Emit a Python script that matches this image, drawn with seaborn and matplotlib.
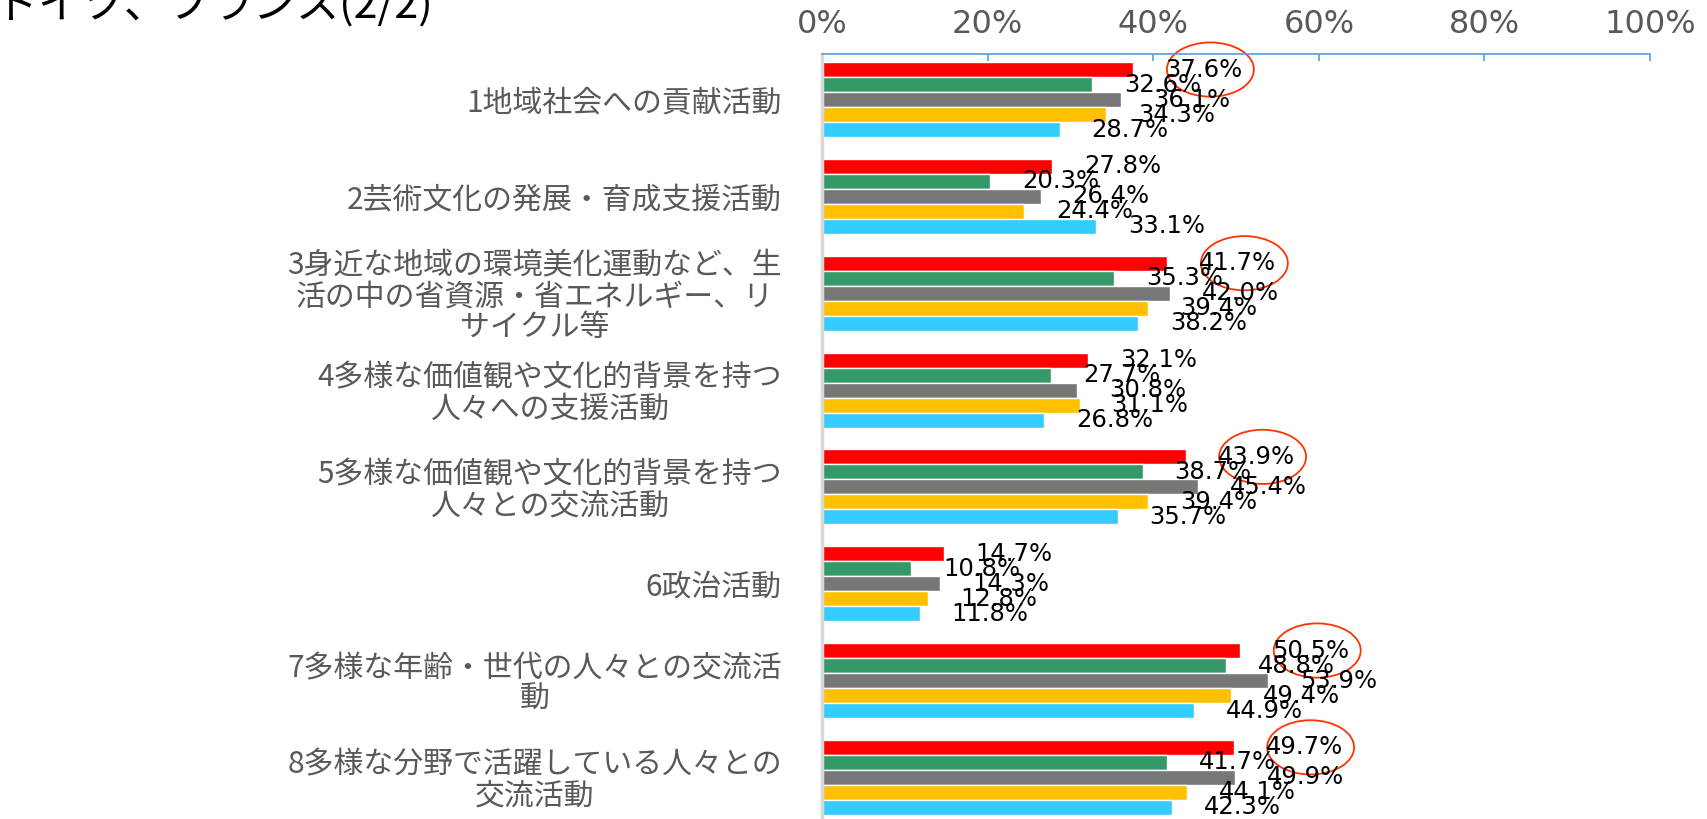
import pandas as pd
import seaborn as sns
import matplotlib.pyplot as plt
from matplotlib.patches import Ellipse

# categories and values (%)
categories = [
    "1地域社会への貢献活動",
    "2芸術文化の発展・育成支援活動",
    "3身近な地域の環境美化運動など、生\n活の中の省資源・省エネルギー、リ\nサイクル等",
    "4多様な価値観や文化的背景を持つ\n人々への支援活動",
    "5多様な価値観や文化的背景を持つ\n人々との交流活動",
    "6政治活動",
    "7多様な年齢・世代の人々との交流活\n動",
    "8多様な分野で活躍している人々との\n交流活動",
]
series = ["s1", "s2", "s3", "s4", "s5"]
red = [37.6, 27.8, 41.7, 32.1, 43.9, 14.7, 50.5, 49.7]
green = [32.6, 20.3, 35.3, 27.7, 38.7, 10.8, 48.8, 41.7]
gray = [36.1, 26.4, 42.0, 30.8, 45.4, 14.3, 53.9, 49.9]
yellow = [34.3, 24.4, 39.4, 31.1, 39.4, 12.8, 49.4, 44.1]
cyan = [28.7, 33.1, 38.2, 26.8, 35.7, 11.8, 44.9, 42.3]
circled = [0, 2, 4, 6, 7]  # red labels circled in the original
xticks = [0, 20, 40, 60, 80, 100]

colors = ["#FF0000", "#339966", "#777777", "#FFC000", "#33CCFF"]

rows = []
for name, vals in zip(series, [red, green, gray, yellow, cyan]):
    for cat, v in zip(categories, vals):
        rows.append({"cat": cat, "series": name, "value": v})
df = pd.DataFrame(rows)

sns.set_style("white")
plt.rcParams["font.family"] = ["Noto Sans CJK JP", "DejaVu Sans"]

fig = plt.figure(figsize=(17.08, 8.19), dpi=100)
ax = fig.add_axes([0.4813, 0.0, 0.4848, 0.934])

sns.barplot(data=df, y="cat", x="value", hue="series", order=categories,
            hue_order=series, palette=colors, orient="h", width=0.775,
            saturation=1, legend=False, ax=ax, errorbar=None)

for c in ax.containers:
    ax.bar_label(c, fmt="%.1f%%", padding=23, fontsize=17.5, color="black",
                 family="DejaVu Sans")

# red ellipses around the highlighted labels
red_bars = ax.containers[0]
for i in circled:
    b = red_bars[i]
    cy = b.get_y() + b.get_height() / 2
    ax.add_patch(Ellipse((b.get_width() + 9.3, cy), 10.5, 0.56, fill=False,
                         edgecolor="#FF3300", lw=1.3, clip_on=False))

ax.set_xlim(0, 100)
ax.set_ylim(7.43, -0.47)
ax.set_xticks(xticks)
ax.set_xticklabels([f"{t}%" for t in xticks], fontsize=23, color="#595959",
                   family="DejaVu Sans")
ax.xaxis.tick_top()
ax.tick_params(axis="x", top=True, bottom=False, direction="in", length=5,
               color="#5B9BD5", width=1.2, pad=10)
ax.set_yticks(range(len(categories)))
ax.set_yticklabels(categories, fontsize=21.5, color="#595959")
for t in ax.get_yticklabels():
    t.set_multialignment("center")
    t.set_linespacing(1.0)
ax.tick_params(axis="y", left=False, length=0, pad=29)
ax.set_xlabel("")
ax.set_ylabel("")

for s in ["right", "bottom"]:
    ax.spines[s].set_visible(False)
ax.spines["top"].set_color("#5B9BD5")
ax.spines["top"].set_linewidth(1.2)
ax.spines["left"].set_color("#D9D9D9")
ax.spines["left"].set_linewidth(2.5)

fig.text(-0.003, 0.978, "ドイツ、フランス(2/2)", fontsize=31, va="baseline",
         color="black")

fig.savefig("out.png", dpi=100)
